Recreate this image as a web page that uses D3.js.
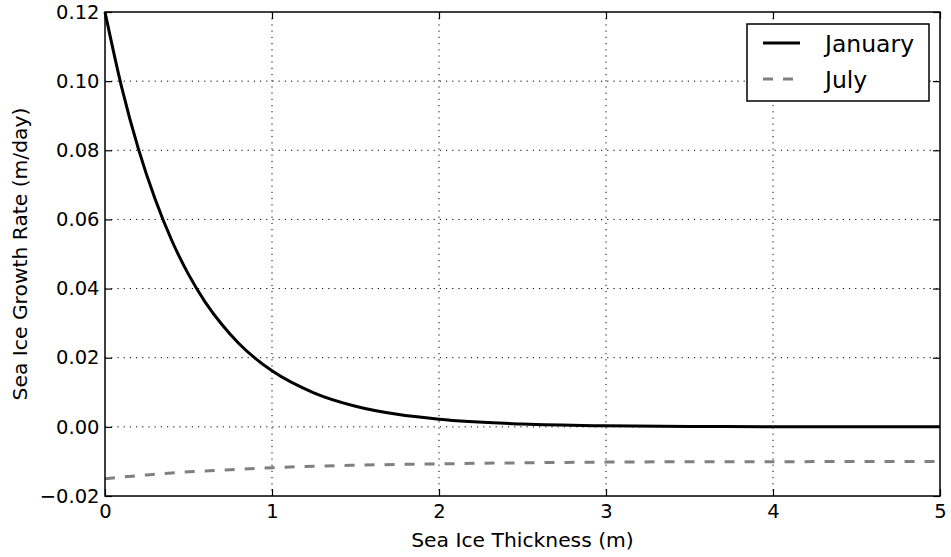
<!DOCTYPE html>
<html>
<head>
<meta charset="utf-8">
<script src="https://cdn.jsdelivr.net/npm/d3@7/dist/d3.min.js"></script>
<style>
  html, body { margin: 0; padding: 0; background: #fff; }
  svg { display: block; }
  text { font-family: "DejaVu Sans", sans-serif; fill: #000; }
</style>
</head>
<body>
<svg id="chart" width="951" height="557"></svg>
<script>
// ---- data ----
const thickness = [0, 0.1, 0.2, 0.3, 0.4, 0.5, 0.6, 0.7, 0.8, 0.9, 1.0, 1.25, 1.5, 1.75, 2.0, 2.5, 3.0, 3.5, 4.0, 4.5, 5.0];
const januaryRate = [0.1200, 0.0982, 0.0804, 0.0659, 0.0539, 0.0441, 0.0361, 0.0296, 0.0242, 0.0198, 0.0162, 0.00985, 0.00597, 0.00362, 0.0022, 0.00081, 0.0003, 0.00011, 0.00004, 0.00001, 0.0];
const julyThickness = [0, 0.25, 0.5, 0.75, 1.0, 1.5, 2.0, 2.5, 3.0, 3.5, 4.0, 4.5, 5.0];
const julyRate = [-0.0150, -0.0139, -0.0130, -0.0124, -0.0118, -0.0111, -0.0107, -0.0104, -0.0102, -0.0101, -0.0101, -0.0100, -0.0100];
const xTicks = [0, 1, 2, 3, 4, 5];
const yTicks = [-0.02, 0.00, 0.02, 0.04, 0.06, 0.08, 0.10, 0.12];
const seriesNames = ["January", "July"];
const xLabel = "Sea Ice Thickness (m)";
const yLabel = "Sea Ice Growth Rate (m/day)";

// ---- layout ----
const L = 105, R = 940, T = 12, B = 496;
const svg = d3.select("#chart");
const x = d3.scaleLinear().domain([0, 5]).range([L, R]);
const y = d3.scaleLinear().domain([-0.02, 0.12]).range([B, T]);

// grid
const grid = svg.append("g");
grid.selectAll("line.gx").data(xTicks.slice(1, -1)).join("line")
  .attr("x1", d => x(d)).attr("x2", d => x(d)).attr("y1", T).attr("y2", B)
  .attr("stroke", "#000").attr("stroke-width", 1).attr("stroke-dasharray", "1.2,5");
grid.selectAll("line.gy").data(yTicks.slice(1, -1)).join("line")
  .attr("x1", L).attr("x2", R).attr("y1", d => y(d)).attr("y2", d => y(d))
  .attr("stroke", "#000").attr("stroke-width", 1).attr("stroke-dasharray", "1.2,5");

// axes (ticks inward on all sides)
const fmt = d => d3.format(".2f")(d).replace("-", "\u2212");
const tl = 7;
const gxB = svg.append("g").attr("transform", `translate(0,${B})`)
  .call(d3.axisBottom(x).tickValues(xTicks).tickFormat(d3.format("d")).tickSizeInner(-tl).tickSizeOuter(0).tickPadding(8));
const gxT = svg.append("g").attr("transform", `translate(0,${T})`)
  .call(d3.axisTop(x).tickValues(xTicks).tickFormat("").tickSizeInner(-tl).tickSizeOuter(0));
const gyL = svg.append("g").attr("transform", `translate(${L},0)`)
  .call(d3.axisLeft(y).tickValues(yTicks).tickFormat(fmt).tickSizeInner(-tl).tickSizeOuter(0).tickPadding(5.5));
const gyR = svg.append("g").attr("transform", `translate(${R},0)`)
  .call(d3.axisRight(y).tickValues(yTicks).tickFormat("").tickSizeInner(-tl).tickSizeOuter(0));
[gxB, gxT, gyL, gyR].forEach(g => {
  g.select(".domain").remove();
  g.selectAll(".tick line").attr("stroke", "#000").attr("stroke-width", 1.2);
  g.selectAll(".tick text").attr("font-family", "DejaVu Sans").attr("font-size", 19.5).attr("fill", "#000");
});

// lines
const lineGen = d3.line().x(d => x(d[0])).y(d => y(d[1])).curve(d3.curveMonotoneX);
svg.append("path")
  .datum(thickness.map((t, i) => [t, januaryRate[i]]))
  .attr("d", lineGen).attr("fill", "none").attr("stroke", "#000").attr("stroke-width", 3);
svg.append("path")
  .datum(julyThickness.map((t, i) => [t, julyRate[i]]))
  .attr("d", lineGen).attr("fill", "none").attr("stroke", "#808080").attr("stroke-width", 3)
  .attr("stroke-dasharray", "10,10");

// frame
svg.append("rect").attr("x", L).attr("y", T).attr("width", R - L).attr("height", B - T)
  .attr("fill", "none").attr("stroke", "#000").attr("stroke-width", 1.5);

// axis labels
svg.append("text").attr("x", (L + R) / 2).attr("y", 547).attr("text-anchor", "middle")
  .attr("font-size", 20.3).text(xLabel);
svg.append("text").attr("transform", `translate(27,${(T + B) / 2}) rotate(-90)`)
  .attr("text-anchor", "middle").attr("font-size", 20.3).text(yLabel);

// legend
const lg = svg.append("g");
lg.append("rect").attr("x", 747).attr("y", 24).attr("width", 182).attr("height", 77)
  .attr("fill", "#fff").attr("stroke", "#000").attr("stroke-width", 1.5);
const legendRows = [
  { name: seriesNames[0], color: "#000", dash: null, cy: 43 },
  { name: seriesNames[1], color: "#808080", dash: "10,10", cy: 79 }
];
legendRows.forEach(r => {
  lg.append("line").attr("x1", 763).attr("x2", 800).attr("y1", r.cy).attr("y2", r.cy)
    .attr("stroke", r.color).attr("stroke-width", 3).attr("stroke-dasharray", r.dash);
  lg.append("text").attr("x", 825).attr("y", r.cy + 8.5).attr("font-size", 23.5).text(r.name);
});
</script>
</body>
</html>
